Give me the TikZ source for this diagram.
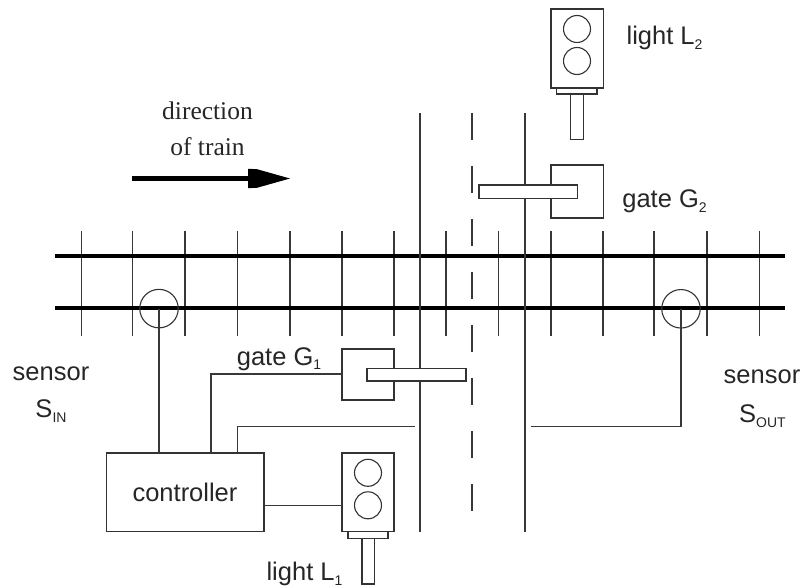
\documentclass[tikz,border=0pt]{standalone}
\usepackage{fontspec}
\setmainfont{Liberation Sans}
\newfontfamily\serifface{Liberation Serif}
\newcommand{\subtxt}[1]{\raisebox{-4.5pt}{\fontsize{14}{14}\selectfont #1}}
\tikzset{
  thin line/.style={line width=1.4pt,color=black!78},
  rail/.style={line width=4.2pt,color=black},
  tie/.style={thin line},
  box/.style={draw=black!80,line width=1.3pt,rectangle,inner sep=0pt,outer sep=0pt,fill=white},
  lamp/.style={draw=black!80,line width=1.1pt,circle,inner sep=0pt,outer sep=0pt,minimum size=27pt},
  sensorring/.style={draw=black!80,line width=1.1pt,circle,inner sep=0pt,outer sep=0pt,minimum size=38.5pt},
  label/.style={inner sep=0pt,outer sep=0pt,anchor=base,font=\fontsize{25.5}{30}\selectfont,text=black!85},
  seriflabel/.style={inner sep=0pt,outer sep=0pt,anchor=base,font=\fontsize{25.5}{30}\selectfont\serifface,text=black!85}
}
\begin{document}
\begin{tikzpicture}[x=1pt,y=-1pt]
\useasboundingbox (0,0) rectangle (801,588);
% ties
\foreach \tx in {81.5,132.5,185,237.5,290,342,394,446,498.5,551,603,654,707,759.5}
  \draw[tie] (\tx,231) -- (\tx,336);
% rails
\coordinate (r1a) at (55,256.3); \coordinate (r1b) at (785,256.3);
\coordinate (r2a) at (55,308.3); \coordinate (r2b) at (785,308.3);
\draw[rail] (r1a) -- (r1b);
\draw[rail] (r2a) -- (r2b);
% road edges
\coordinate (e1a) at (420,113); \coordinate (e1b) at (420,531.5);
\coordinate (e2a) at (525,113); \coordinate (e2b) at (525,531.5);
\coordinate (e3a) at (472,113); \coordinate (e3b) at (472,512);
\draw[thin line] (e1a) -- (e1b);
\draw[thin line] (e2a) -- (e2b);
\draw[thin line,dash pattern=on 27pt off 26pt] (e3a) -- (e3b);
% sensors
\node[sensorring] (sin) at (159,308.6) {};
\node[sensorring] (sout) at (681,308.8) {};
% controller
\node[box,minimum width=157.5pt,minimum height=78.5pt] (ctrl) at (185.2,492.2) {};
\node[label] (ctrltext) at (185,501.7) {controller};
% gate 1
\node[box,minimum width=52pt,minimum height=51pt] (g1) at (368,374.5) {};
\node[box,minimum width=99pt,minimum height=12.3pt] (g1arm) at (416.5,374.8) {};
% gate 2
\node[box,minimum width=52.5pt,minimum height=53pt] (g2) at (577.2,191.5) {};
\node[box,minimum width=98.5pt,minimum height=13.5pt] (g2arm) at (528.2,191.7) {};
% light 1
\node[box,minimum width=52pt,minimum height=78.5pt] (l1) at (368,492.2) {};
\node[lamp] (l1a) at (368,472.8) {};
\node[lamp] (l1b) at (368,505.3) {};
\node[box,minimum width=40pt,minimum height=7pt] (l1base) at (368,535) {};
\node[box,minimum width=12.5pt,minimum height=45.5pt] (l1post) at (368.2,561.3) {};
% light 2
\node[box,minimum width=52.5pt,minimum height=79pt] (l2) at (577.2,48.5) {};
\node[lamp] (l2a) at (577,29) {};
\node[lamp] (l2b) at (577,61) {};
\node[box,minimum width=40.5pt,minimum height=6pt] (l2base) at (576.7,91) {};
\node[box,minimum width=13pt,minimum height=45.5pt] (l2post) at (576.7,116.7) {};
% connectors
\coordinate (c1) at (211,374);
\coordinate (c2) at (237.5,426.5);
\coordinate (c3) at (415,426.5);
\coordinate (c4) at (531,426.5);
\coordinate (c5) at (264,505.5);
\draw[thin line] (sin.center) -- (sin.center |- ctrl.north);
\draw[thin line] (ctrl.north -| c1) -- (c1) -- (g1.west |- c1);
\draw[thin line] (ctrl.north -| c2) -- (c2) -- (c3);
\draw[thin line] (sout.center) -- (sout.center |- c4) -- (c4);
\draw[thin line] (c5) -- (l1.west |- c5);
% arrow
\coordinate (ara) at (132,178.5);
\coordinate (arb) at (250,178.5);
\coordinate (art) at (290,178.5);
\draw[line width=5.2pt] (ara) -- (arb);
\fill (248,168.8) -- (257,169.2) -- (art) -- (257,187.8) -- (248,188.2) -- cycle;
% labels
\node[seriflabel] (t1) at (207.5,120) {direction};
\node[seriflabel] (t2) at (207.5,156) {of train};
\node[label] (t3) at (51,380) {sensor};
\node[label] (t4) at (51,417.5) {S\subtxt{IN}};
\node[label] (t5) at (279,365) {gate G\subtxt{1}};
\node[label] (t6) at (304.5,580.7) {light L\subtxt{1}};
\node[label] (t7) at (664.5,45) {light L\subtxt{2}};
\node[label] (t8) at (664.5,208) {gate G\subtxt{2}};
\node[label] (t9) at (762,383) {sensor};
\node[label] (t10) at (762.5,422.7) {S\subtxt{OUT}};
\end{tikzpicture}
\end{document}
